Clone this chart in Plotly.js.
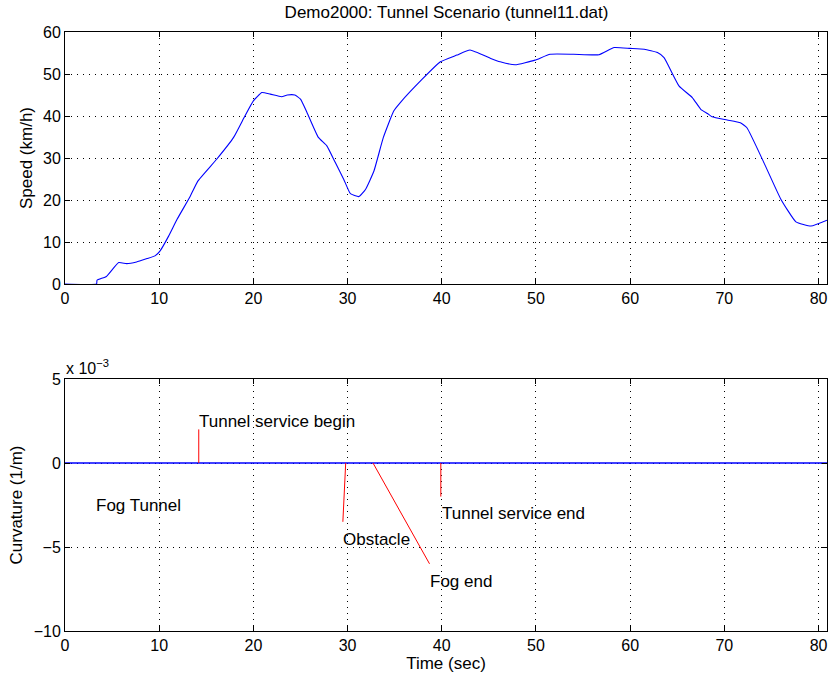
<!DOCTYPE html>
<html>
<head>
<meta charset="utf-8">
<script src="https://cdn.plot.ly/plotly-3.0.1.min.js"></script>
<style>html,body{margin:0;padding:0;background:#fff;}#chart{width:830px;height:677px;}</style>
</head>
<body>
<div id="chart"></div>
<script>
// ---- data ----
const timeSec = [0, 3.35, 3.4, 4.4, 5.7, 6.55, 7.6, 8.7, 9.55, 10.1, 11.0, 11.9, 13.3, 14.1, 16.1, 17.9, 19.1, 20.0, 20.9, 21.8, 23.0, 23.6, 24.4, 25.0, 25.7, 26.9, 27.8, 28.7, 29.6, 30.3, 31.2, 31.9, 32.8, 33.8, 34.9, 35.6, 37.9, 39.85, 41.6, 43.0, 45.2, 46.2, 47.8, 49.9, 51.5, 54.0, 56.7, 58.3, 60.0, 61.5, 62.9, 63.6, 65.2, 66.6, 67.5, 68.2, 68.7, 70.3, 71.7, 72.4, 74.2, 76.0, 77.6, 79.2, 80.9];
const speedKmh = [0, 0, 0.9, 1.8, 5.1, 4.85, 5.25, 6.05, 6.7, 7.9, 11.4, 15.4, 20.9, 24.5, 29.7, 34.9, 40.0, 43.6, 45.6, 45.2, 44.6, 45.0, 45.0, 44.0, 40.8, 34.9, 32.9, 28.9, 24.9, 21.5, 20.8, 22.5, 26.9, 34.9, 41.2, 43.2, 48.7, 52.9, 54.5, 55.7, 53.7, 52.9, 52.2, 53.3, 54.7, 54.7, 54.6, 56.3, 56.1, 55.9, 55.1, 53.9, 47.1, 44.4, 41.6, 40.6, 39.8, 39.05, 38.4, 37.2, 28.9, 20.2, 14.8, 13.8, 15.2];

const curvTime = [0, 80.9];
const curvature = [0, 0];   // in units of 1e-3 1/m

const eventLabels = ["Fog Tunnel", "Tunnel service begin", "Obstacle", "Fog end", "Tunnel service end"];
const eventLabelX = [3.3, 14.2, 29.5, 38.8, 40.0];
const eventLabelY = [-2.55, 2.45, -4.55, -7.05, -3.0];
const eventLineX0 = [null, 14.2, 29.8, 32.7, 39.9];
const eventLineY0 = [null, 0, 0, 0, 0];
const eventLineX1 = [null, 14.2, 29.5, 38.7, 39.9];
const eventLineY1 = [null, 2.0, -3.5, -6.0, -2.0];

const xTicks = [0, 10, 20, 30, 40, 50, 60, 70, 80];
const speedTicks = [0, 10, 20, 30, 40, 50, 60];
const curvTicks = [-10, -5, 0, 5];

// ---- build ----
const FONT = "Liberation Sans, Arial, Helvetica, sans-serif";
const FS = 16;   // tick labels
const TS = 17;   // titles and labels
const traces = [
  {x: timeSec, y: speedKmh, xaxis: 'x', yaxis: 'y', mode: 'lines', line: {color: '#0000ff', width: 1.1, shape: 'spline', smoothing: 0.4}, hoverinfo: 'skip'},
  {x: curvTime, y: curvature, xaxis: 'x2', yaxis: 'y2', mode: 'lines', line: {color: '#0000ff', width: 1.3}, hoverinfo: 'skip'}
];
for (let i = 0; i < eventLabels.length; i++) {
  if (eventLineX0[i] === null) continue;
  traces.push({x: [eventLineX0[i], eventLineX1[i]], y: [eventLineY0[i], eventLineY1[i]], xaxis: 'x2', yaxis: 'y2',
    mode: 'lines', line: {color: '#ff0000', width: 1}, hoverinfo: 'skip'});
}

const annotations = eventLabels.map((t, i) => ({
  text: t, x: eventLabelX[i], y: eventLabelY[i], xref: 'x2', yref: 'y2', xshift: -2,
  xanchor: 'left', yanchor: 'middle', showarrow: false, font: {family: FONT, size: TS, color: '#000'}
}));
annotations.push({text: 'x 10<sup>−3</sup>', xref: 'paper', yref: 'paper', x: 0, y: 0.4207, xanchor: 'left', yanchor: 'bottom',
  xshift: -1, showarrow: false, font: {family: FONT, size: FS, color: '#000'}});

const axisCommon = {
  showline: true, mirror: 'ticks', linecolor: '#000', linewidth: 1,
  ticks: 'inside', ticklen: 5, tickcolor: '#000',
  showgrid: true, gridcolor: '#000', gridwidth: 1, griddash: '1px,5px',
  zeroline: false, tickfont: {family: FONT, size: FS, color: '#000'}, fixedrange: true
};

const layout = {
  width: 830, height: 677,
  margin: {l: 65, r: 3, t: 32, b: 46},
  paper_bgcolor: '#fff', plot_bgcolor: '#fff',
  showlegend: false,
  font: {family: FONT, size: FS, color: '#000'},
  title: {text: 'Demo2000: Tunnel Scenario (tunnel11.dat)', x: 0.538, xanchor: 'center', y: 0.982, yanchor: 'middle', font: {family: FONT, size: TS, color: '#000'}},
  xaxis: Object.assign({}, axisCommon, {domain: [0, 1], anchor: 'y', range: [0, 80.9], tickvals: xTicks, ticktext: xTicks.map(String)}),
  yaxis: Object.assign({}, axisCommon, {domain: [0.5793, 1], anchor: 'x', range: [0, 60], tickvals: speedTicks, ticktext: speedTicks.map(String),
    title: {text: 'Speed (km/h)', standoff: 6, font: {family: FONT, size: TS, color: '#000'}}}),
  xaxis2: Object.assign({}, axisCommon, {domain: [0, 1], anchor: 'y2', range: [0, 80.9], tickvals: xTicks, ticktext: xTicks.map(String),
    title: {text: 'Time (sec)', standoff: 2, font: {family: FONT, size: TS, color: '#000'}}}),
  yaxis2: Object.assign({}, axisCommon, {domain: [0, 0.4207], anchor: 'x2', range: [-10, 5], tickvals: curvTicks, ticktext: curvTicks.map(v => v < 0 ? '−' + Math.abs(v) : String(v)),
    title: {text: 'Curvature (1/m)', standoff: 6, font: {family: FONT, size: TS, color: '#000'}}}),
  annotations: annotations
};

Plotly.newPlot('chart', traces, layout, {staticPlot: true, displayModeBar: false});
</script>
</body>
</html>
